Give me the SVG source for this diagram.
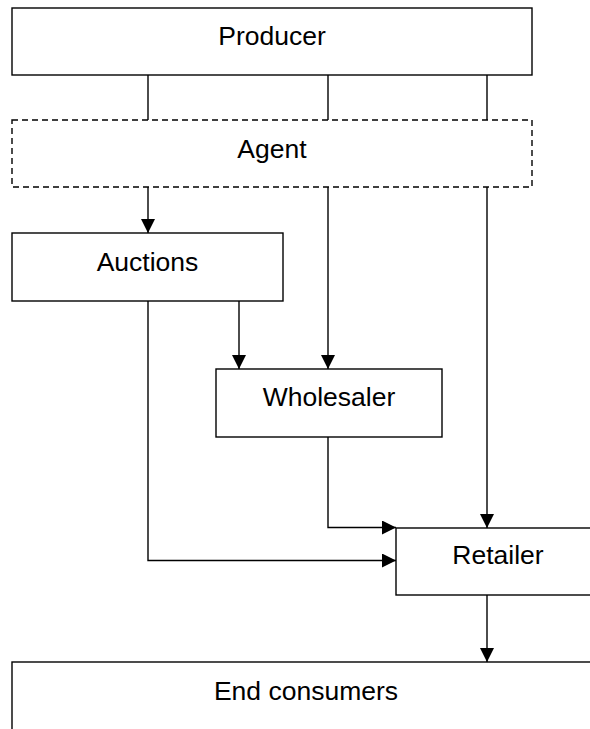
<svg xmlns="http://www.w3.org/2000/svg" width="590" height="729" viewBox="0 0 590 729">
  <style>
    .box { fill: #ffffff; stroke: #000000; stroke-width: 1.4; }
    .dashed { stroke-dasharray: 6 4; }
    .label { font-family: "Liberation Sans", Arial, sans-serif; font-size: 26.5px; fill: #000000; text-anchor: middle; }
    .link { fill: none; stroke: #000000; stroke-width: 1.4; }
    .arrow { marker-end: url(#head); }
  </style>
  <defs>
    <marker id="head" markerUnits="userSpaceOnUse" markerWidth="14" markerHeight="14" viewBox="0 0 14 14" refX="14" refY="7" orient="auto">
      <path d="M0,0 L14,7 L0,14 Z" fill="#000000"/>
    </marker>
  </defs>

  <rect width="590" height="729" fill="#ffffff"/>

  <!-- connectors -->
  <g id="connectors">
    <line class="link" x1="148" y1="75" x2="148" y2="120"/>
    <line class="link" x1="328" y1="75" x2="328" y2="120"/>
    <line class="link" x1="487" y1="75" x2="487" y2="120"/>
    <line class="link arrow" x1="148" y1="187" x2="148" y2="233"/>
    <line class="link arrow" x1="328" y1="187" x2="328" y2="369"/>
    <line class="link arrow" x1="487" y1="187" x2="487" y2="528"/>
    <line class="link arrow" x1="239" y1="301" x2="239" y2="369"/>
    <polyline class="link arrow" points="148,301 148,560.5 396,560.5"/>
    <polyline class="link arrow" points="328,437 328,527.5 396,527.5"/>
    <line class="link arrow" x1="487" y1="595" x2="487" y2="662"/>
  </g>

  <!-- nodes -->
  <g id="producer">
    <rect class="box" x="12" y="8" width="520" height="67"/>
    <text class="label" x="272" y="45">Producer</text>
  </g>
  <g id="agent">
    <rect class="box dashed" x="12" y="120" width="520" height="67"/>
    <text class="label" x="272" y="157.5">Agent</text>
  </g>
  <g id="auctions">
    <rect class="box" x="12" y="233" width="271" height="68"/>
    <text class="label" x="147.5" y="270.5">Auctions</text>
  </g>
  <g id="wholesaler">
    <rect class="box" x="216" y="369" width="226" height="68"/>
    <text class="label" x="329" y="406">Wholesaler</text>
  </g>
  <g id="retailer">
    <rect class="box" x="396" y="528" width="206" height="67"/>
    <text class="label" x="498" y="564">Retailer</text>
  </g>
  <g id="end-consumers">
    <rect class="box" x="12" y="662" width="590" height="80"/>
    <text class="label" x="306" y="700">End consumers</text>
  </g>
</svg>
